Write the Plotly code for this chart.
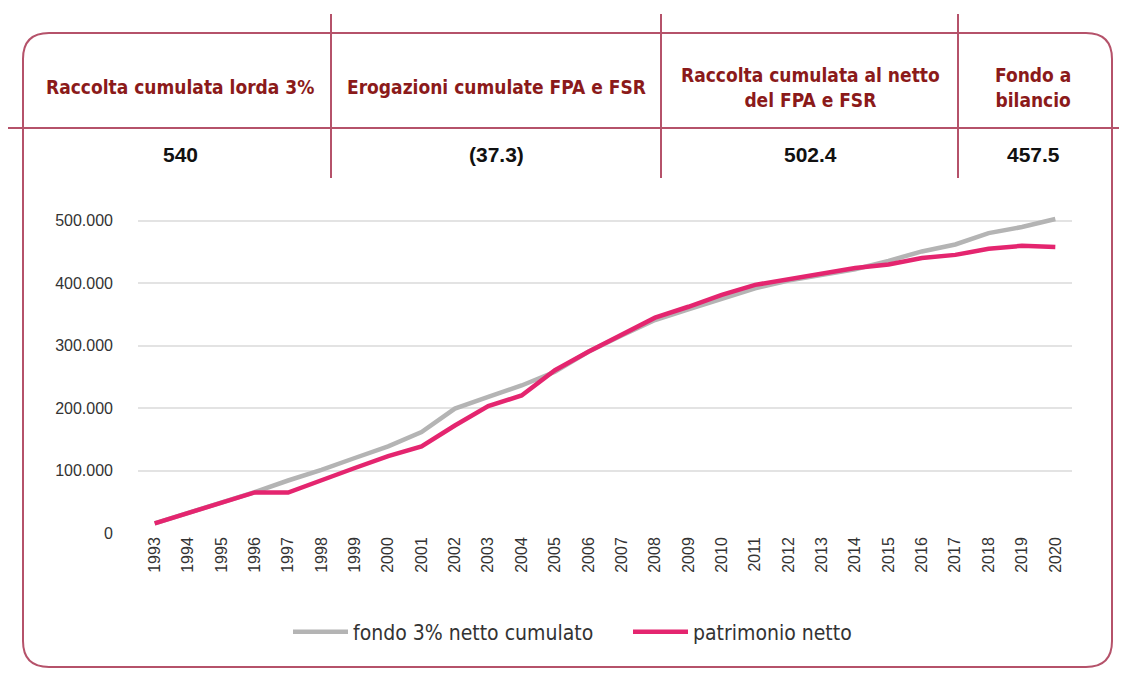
import plotly.graph_objects as go

years = [str(y) for y in range(1993, 2021)]
fondo = [15400, 31500, 49000, 65500, 84000, 101000, 120000, 138500, 161500, 199000,
         217700, 236000, 258000, 290000, 316000, 340700, 358000, 375500, 391600, 404000,
         413500, 422000, 435500, 450500, 461600, 479900, 489500, 502400]
patrimonio = [15400, 31500, 49000, 65000, 64700, 85000, 104000, 123000, 138500, 172000,
              203000, 220000, 260500, 290000, 318000, 344500, 362000, 381000, 397000, 406000,
              413500, 424000, 429600, 440000, 445000, 454700, 459500, 457500]

headers = ["Raccolta cumulata lorda 3%", "Erogazioni cumulate FPA e FSR",
           "Raccolta cumulata al netto<br>del FPA e FSR", "Fondo a<br>bilancio"]
values = ["540", "(37.3)", "502.4", "457.5"]
header_px = [180, 496, 810, 1033]

OFF = 8  # page body margin
W, H = 1127 - OFF, 678 - OFF
ML, MR, MT, MB = 138 - OFF, 55, 208 - OFF, 145
PW, PH = W - ML - MR, H - MT - MB

def px(x):
    return (x - OFF - ML) / PW

def py(y):
    return (H - MB - (y - OFF)) / PH

BORDER = "#b5526a"
HEAD = "#8b1a1a"

fig = go.Figure()
fig.add_trace(go.Scatter(x=years, y=fondo, mode="lines", name="fondo 3% netto cumulato",
                         line=dict(color="#b4b4b4", width=4.5)))
fig.add_trace(go.Scatter(x=years, y=patrimonio, mode="lines", name="patrimonio netto",
                         line=dict(color="#e4256f", width=4.5)))

shapes = []
L, R, T, B, rad = 23, 1112, 33, 667, 26
path = (f"M {px(L+rad)},{py(T)} L {px(R-rad)},{py(T)} Q {px(R)},{py(T)} {px(R)},{py(T+rad)} "
        f"L {px(R)},{py(B-rad)} Q {px(R)},{py(B)} {px(R-rad)},{py(B)} "
        f"L {px(L+rad)},{py(B)} Q {px(L)},{py(B)} {px(L)},{py(B-rad)} "
        f"L {px(L)},{py(T+rad)} Q {px(L)},{py(T)} {px(L+rad)},{py(T)} Z")
shapes.append(dict(type="path", xref="paper", yref="paper", path=path,
                   line=dict(color=BORDER, width=2)))
shapes.append(dict(type="line", xref="paper", yref="paper", x0=px(8), x1=px(1127),
                   y0=py(128), y1=py(128), line=dict(color=BORDER, width=2)))
for vx in [331, 661, 958]:
    shapes.append(dict(type="line", xref="paper", yref="paper", x0=px(vx), x1=px(vx),
                       y0=py(14), y1=py(178), line=dict(color=BORDER, width=2)))

annotations = []
for hx, htxt, v in zip(header_px, headers, values):
    annotations.append(dict(x=px(hx), y=py(87), xref="paper", yref="paper", text=f"<b>{htxt}</b>",
                            showarrow=False, xanchor="center", yanchor="middle",
                            font=dict(family="Liberation Sans Narrow, DejaVu Sans Condensed", size=19, color=HEAD)))
    annotations.append(dict(x=px(hx), y=py(154), xref="paper", yref="paper", text=f"<b>{v}</b>",
                            showarrow=False, xanchor="center", yanchor="middle",
                            font=dict(family="Liberation Sans, Arial", size=21, color="#111111")))

fig.update_layout(
    width=W, height=H,
    margin=dict(l=ML, r=MR, t=MT, b=MB),
    paper_bgcolor="white", plot_bgcolor="white",
    separators=",.",
    shapes=shapes, annotations=annotations,
    showlegend=True,
    legend=dict(orientation="h", x=px(628), y=py(632), xanchor="center", yanchor="middle",
                font=dict(family="Liberation Sans Narrow, DejaVu Sans Condensed", size=21, color="#333333"),
                itemwidth=55, entrywidth=270, bgcolor="rgba(0,0,0,0)"),
    xaxis=dict(type="category", tickangle=-90, showgrid=False, zeroline=False, showline=False,
               tickfont=dict(family="Liberation Sans, Arial", size=16, color="#333333"),
               ticks="", range=[-0.5, 27.5]),
    yaxis=dict(range=[0, 520000], tickvals=[0, 100000, 200000, 300000, 400000, 500000],
               tickformat=",d", showgrid=True, gridcolor="#e3e3e3", gridwidth=2,
               zeroline=False, showline=False, ticks="", ticklabelstandoff=24,
               tickfont=dict(family="Liberation Sans, Arial", size=16, color="#333333")),
)

fig.write_html("out.html")
